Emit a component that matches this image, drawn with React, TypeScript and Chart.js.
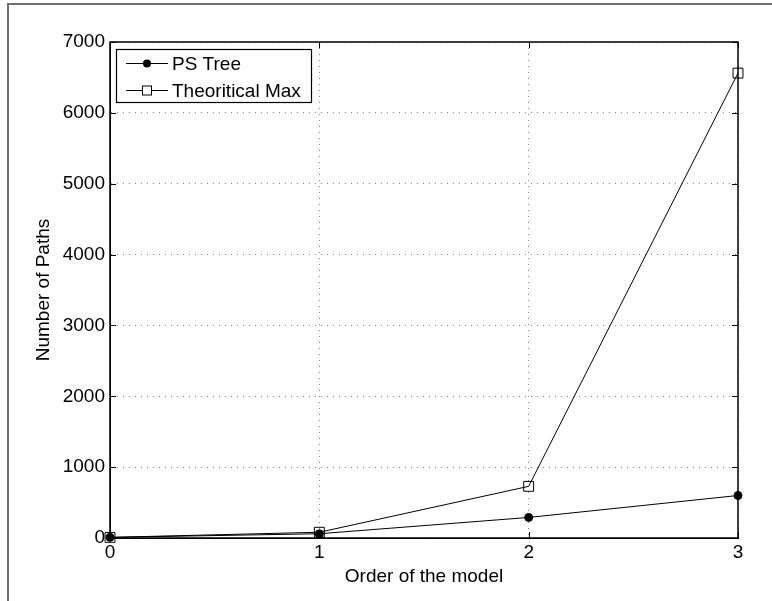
import React, { useEffect, useRef } from "react";
import { Chart, registerables } from "chart.js";

Chart.register(...registerables);

const orders = [0, 1, 2, 3];
const psTree = [9, 60, 290, 600];
const theoreticalMax = [9, 81, 729, 6561];
const yTicks = [0, 1000, 2000, 3000, 4000, 5000, 6000, 7000];
const xTicks = [0, 1, 2, 3];
const seriesLabels = ["PS Tree", "Theoritical Max"];

const FONT = "'Liberation Sans', Arial, Helvetica, sans-serif";
const FS = 19;

const boxPlugin = {
  id: "matlabBox",
  afterDatasetsDraw(chart: any) {
    const { ctx, chartArea, scales } = chart;
    const { left, right, top, bottom } = chartArea;
    ctx.save();
    ctx.strokeStyle = "#000";
    ctx.lineWidth = 1;
    ctx.beginPath();
    const tl = 6;
    for (const v of xTicks) {
      const x = Math.round(scales.x.getPixelForValue(v)) + 0.5;
      ctx.moveTo(x, bottom);
      ctx.lineTo(x, bottom - tl);
      ctx.moveTo(x, top);
      ctx.lineTo(x, top + tl);
    }
    for (const v of yTicks) {
      const y = Math.round(scales.y.getPixelForValue(v)) + 0.5;
      ctx.moveTo(left, y);
      ctx.lineTo(left + tl, y);
      ctx.moveTo(right, y);
      ctx.lineTo(right - tl, y);
    }
    ctx.stroke();
    ctx.lineWidth = 1.5;
    ctx.strokeRect(left, top, right - left, bottom - top);
    ctx.restore();
  },
  afterDraw(chart: any) {
    const { ctx } = chart;
    ctx.save();
    const bx = 116, by = 49, bw = 195, bh = 53;
    ctx.fillStyle = "#fff";
    ctx.fillRect(bx, by, bw, bh);
    ctx.strokeStyle = "#000";
    ctx.lineWidth = 1.2;
    ctx.strokeRect(bx + 0.5, by + 0.5, bw, bh);
    const rows = [63, 90];
    chart.data.datasets.forEach((ds: any, i: number) => {
      const y = rows[i] + 0.5;
      ctx.beginPath();
      ctx.lineWidth = 1;
      ctx.moveTo(126, y);
      ctx.lineTo(168, y);
      ctx.stroke();
      if (i === 0) {
        ctx.beginPath();
        ctx.fillStyle = "#000";
        ctx.arc(147, y, 4, 0, Math.PI * 2);
        ctx.fill();
      } else {
        ctx.fillStyle = "#fff";
        ctx.fillRect(142.5, y - 4.5, 9, 9);
        ctx.strokeRect(142.5, y - 4.5, 9, 9);
      }
      ctx.fillStyle = "#000";
      ctx.font = `${FS}px ${FONT}`;
      ctx.textAlign = "left";
      ctx.textBaseline = "middle";
      ctx.fillText(ds.label, 172, y + 1);
    });
    ctx.restore();
  },
};

export default function App() {
  const ref = useRef<HTMLCanvasElement>(null);
  useEffect(() => {
    const canvas = ref.current;
    if (!canvas) return;
    const chart = new Chart(canvas, {
      type: "line",
      data: {
        datasets: [
          {
            label: seriesLabels[0],
            data: orders.map((o, i) => ({ x: o, y: psTree[i] })),
            borderColor: "#000",
            backgroundColor: "#000",
            borderWidth: 1,
            pointStyle: "circle",
            pointRadius: 4,
            pointBorderWidth: 1,
            pointBackgroundColor: "#000",
            pointBorderColor: "#000",
            clip: false as any,
          },
          {
            label: seriesLabels[1],
            data: orders.map((o, i) => ({ x: o, y: theoreticalMax[i] })),
            borderColor: "#000",
            backgroundColor: "#fff",
            borderWidth: 1,
            pointStyle: "rect",
            pointRadius: 7,
            pointBorderWidth: 1,
            pointBackgroundColor: "rgba(255,255,255,0)",
            pointBorderColor: "#000",
            clip: false as any,
          },
        ],
      },
      options: {
        animation: false,
        responsive: false,
        devicePixelRatio: 1,
        layout: { padding: { top: 42, right: 34, left: 0, bottom: 0 } },
        plugins: { legend: { display: false }, tooltip: { enabled: false } },
        scales: {
          x: {
            type: "linear",
            min: 0,
            max: 3,
            afterFit: (s: any) => {
              s.height = 63;
            },
            afterBuildTicks: (s: any) => {
              s.ticks = xTicks.map((v) => ({ value: v }));
            },
            ticks: {
              color: "#000",
              font: { family: FONT, size: FS },
              padding: 3,
              callback: (v: any) => String(v),
            },
            grid: {
              drawTicks: false,
              color: "#8a8a8a",
              lineWidth: 1,
            },
            border: { display: true, color: "#000", dash: [1, 5] } as any,
            title: {
              display: true,
              text: "Order of the model",
              color: "#000",
              font: { family: FONT, size: FS },
              padding: { top: 0, bottom: 13 },
            },
          },
          y: {
            type: "linear",
            min: 0,
            max: 7000,
            afterFit: (s: any) => {
              s.width = 110;
            },
            afterBuildTicks: (s: any) => {
              s.ticks = yTicks.map((v) => ({ value: v }));
            },
            ticks: {
              color: "#000",
              font: { family: FONT, size: FS },
              padding: 5,
              callback: (v: any) => String(v),
            },
            grid: {
              drawTicks: false,
              color: "#8a8a8a",
              lineWidth: 1,
            },
            border: { display: true, color: "#000", dash: [1, 5] } as any,
            title: {
              display: true,
              text: "Number of Paths",
              color: "#000",
              font: { family: FONT, size: FS },
              padding: { top: 32, bottom: 0 },
            },
          },
        },
      },
      plugins: [boxPlugin],
    });
    return () => chart.destroy();
  }, []);

  return (
    <div style={{ position: "absolute", left: 0, top: 0, width: 772, height: 601, background: "#fff", overflow: "hidden" }}>
      <canvas ref={ref} width={772} height={601} style={{ display: "block", width: 772, height: 601 }} />
      <div
        style={{
          position: "absolute",
          left: 7,
          top: 3,
          width: 800,
          height: 700,
          borderLeft: "2px solid #6e6e6e",
          borderTop: "2px solid #6e6e6e",
          pointerEvents: "none",
        }}
      />
    </div>
  );
}
